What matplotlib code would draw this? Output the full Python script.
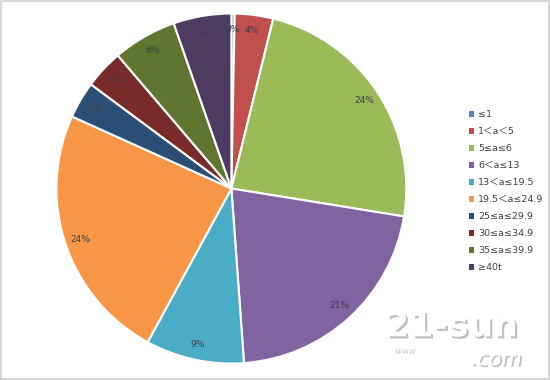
import matplotlib
matplotlib.use("Agg")
import matplotlib.pyplot as plt
import matplotlib.patheffects as pe
from matplotlib.patches import Rectangle

plt.rcParams['font.family'] = ['DejaVu Sans', 'Noto Sans CJK SC']

labels = ["≤1", "1＜a＜5", "5≤a≤6", "6＜a≤13", "13＜a≤19.5",
          "19.5＜a≤24.9", "25≤a≤29.9", "30≤a≤34.9", "35≤a≤39.9", "≥40t"]
shares = [0.3, 3.55, 23.7, 21.3, 9.1, 23.8, 3.4, 3.6, 5.9, 5.35]
colors = ["#4F81BD", "#C0504D", "#9BBB59", "#8064A2", "#4BACC6",
          "#F79646", "#2C4D75", "#772C2A", "#5F7530", "#4D3B62"]

fig = plt.figure(figsize=(5.5, 3.8), dpi=100)
fig.patch.set_facecolor("white")

ax = fig.add_axes([0.1027, 0.0434, 0.636, 0.921])
wedges, texts, autotexts = ax.pie(
    shares, colors=colors, startangle=90, counterclock=False,
    autopct="%.0f%%", pctdistance=0.91, radius=1.0,
    wedgeprops=dict(edgecolor="white", linewidth=1.5),
    textprops=dict(fontsize=6.5, color="#404040"))
ax.set_xlim(-1.0, 1.0)
ax.set_ylim(-1.0, 1.0)
ax.set_aspect("auto")
ax.axis("off")

handles = [Rectangle((0, 0), 1, 1, facecolor=c, edgecolor="none") for c in colors]
leg = fig.legend(handles, labels, loc="upper left", bbox_to_anchor=(0.845, 0.72),
                 frameon=False, fontsize=6.8, handlelength=0.6, handleheight=0.6,
                 handletextpad=0.4, labelspacing=0.85, borderaxespad=0)
for t in leg.get_texts():
    t.set_color("#404040")

# watermark
shadow = [pe.withSimplePatchShadow(offset=(1.5, -1.5), shadow_rgbFace="#b0b0b0", alpha=0.8)]
fig.text(0.70, 0.115, "21-sun", fontsize=25, fontweight="bold", color="white",
         path_effects=shadow)
fig.text(0.715, 0.075, "www", fontsize=6, style="italic", color="white",
         path_effects=shadow)
fig.text(0.855, 0.04, ".com", fontsize=15, style="italic", color="white",
         path_effects=shadow)

# outer frame
fig.patches.append(Rectangle((0.002, 0.003), 0.996, 0.994, transform=fig.transFigure,
                             fill=False, edgecolor="#d0d0d0", linewidth=1.2))

fig.savefig("out.png", dpi=100, facecolor="white")
